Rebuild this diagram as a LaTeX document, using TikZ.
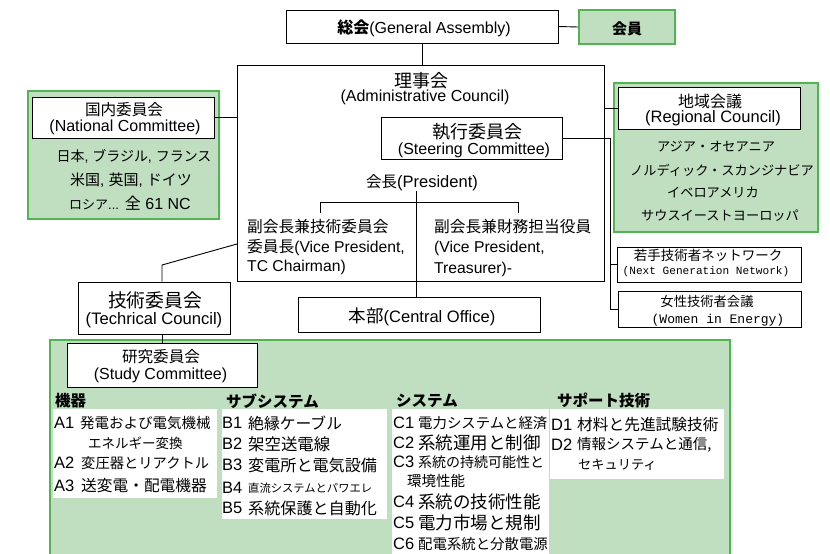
\documentclass[tikz,border=0pt]{standalone}
\usepackage{fontspec}
\setmainfont{Liberation Sans}
\newfontfamily\jp{Noto Sans CJK JP}
\newfontfamily\mono{Liberation Mono}
\newcommand\fsz[1]{\fontsize{#1}{#1}\selectfont}
\definecolor{gfill}{RGB}{192,222,192}
\definecolor{gline}{RGB}{80,180,80}
\begin{document}
\begin{tikzpicture}[x=1pt,y=-1pt,
  box/.style={draw=black, line width=0.9pt, fill=white, inner sep=0pt, rectangle},
  gbox/.style={draw=gline, line width=2pt, fill=gfill, inner sep=0pt, rectangle},
  panel/.style={fill=white, inner sep=0pt, anchor=north west, rectangle},
  txt/.style={inner sep=0pt},
  lt/.style={inner sep=0pt, anchor=west},
  code/.style={inner sep=0pt, anchor=west, font=\fsz{16.5}},
  ln/.style={black, line width=0.9pt}]
\clip (0,0) rectangle (830,554);
\fill[white] (0,0) rectangle (830,554);

% ---- top: General Assembly & members
\node[box, minimum width=272pt, minimum height=33pt] (ga) at (422,26.5) {};
\node[txt, font=\fsz{16}] (gat) at (424,28) {{\jp\bfseries 総会}(General Assembly)};
\node[gbox, minimum width=96pt, minimum height=34pt] (mem) at (627,27) {};
\node[txt, font=\fsz{15}\jp\bfseries] (memt) at (627,29) {会員};
\draw[ln] (ga.east) -- (mem.west);

% ---- Administrative council
\node[box, minimum width=367pt, minimum height=216pt] (adm) at (420.5,173) {};
\draw[ln] (ga.south) -- (ga.south |- adm.north);
\node[txt, font=\fsz{18}\jp] (admj) at (421,81) {理事会};
\node[txt, font=\fsz{16}] (adme) at (425,97) {(Administrative Council)};

\node[box, minimum width=181pt, minimum height=42pt] (steer) at (471.5,138) {};
\node[txt, font=\fsz{18}\jp] (steerj) at (477,132) {執行委員会};
\node[txt, font=\fsz{16}] (steere) at (474,150) {(Steering Committee)};

\node[txt, font=\fsz{16.5}] (pres) at (422,183) {{\jp\fsz{15.5}会長}(President)};

\coordinate (brm) at (416,202);
\coordinate (brl) at (320,213);
\coordinate (brr) at (518,213);
\draw[ln] (brl) -- (brl |- brm) -- (brr |- brm) -- (brr);

\node[lt, font=\fsz{15.7}\jp] (vp1a) at (247,227) {副会長兼技術委員会};
\node[lt, font=\fsz{15.7}] (vp1b) at (247,248) {{\jp 委員長}(Vice President,};
\node[lt, font=\fsz{15.7}] (vp1c) at (247,267) {TC Chairman)};
\node[lt, font=\fsz{15.7}\jp] (vp2a) at (434,227) {副会長兼財務担当役員};
\node[lt, font=\fsz{15.7}] (vp2b) at (434,248) {(Vice President,};
\node[lt, font=\fsz{15.7}] (vp2c) at (434,269) {Treasurer)-};

\node[box, minimum width=242pt, minimum height=35pt] (hq) at (419,314.5) {};
\node[txt, font=\fsz{16.5}] (hqt) at (422,317) {{\jp\fsz{17.5}本部}(Central Office)};
\draw[ln] (brm |- pres.south) -- (brm |- hq.north);

% ---- National committee
\node[gbox, minimum width=191pt, minimum height=128pt] (natg) at (123.5,155) {};
\node[box, minimum width=182pt, minimum height=41pt] (nat) at (123,117.5) {};
\node[txt, font=\fsz{15.6}\jp] (natj) at (124,110) {国内委員会};
\node[txt, font=\fsz{16}] (nate) at (125,127) {(National Committee)};
\node[txt, font=\fsz{14}] (nat1) at (134,156) {{\jp 日本}, {\jp ブラジル}, {\jp フランス}};
\node[txt, font=\fsz{15}] (nat2) at (131,180) {{\jp 米国}, {\jp 英国}, {\jp ドイツ}};
\node[txt, font=\fsz{16}] (nat3) at (130,203) {{\jp\fsz{13}ロシア}{\fsz{13}...} {\jp 全} 61 NC};
\draw[ln] (nat.east) -- (nat.east -| adm.west);

% ---- Regional council
\node[gbox, minimum width=204pt, minimum height=149pt] (regg) at (716,157.5) {};
\node[box, minimum width=182pt, minimum height=42pt] (reg) at (709,108) {};
\node[txt, font=\fsz{16}\jp] (regj) at (710,101) {地域会議};
\node[txt, font=\fsz{16.5}] (rege) at (713,118) {(Regional Council)};
\node[txt, font=\fsz{13.2}\jp] (reg1) at (716,147) {アジア・オセアニア};
\node[txt, font=\fsz{13.2}\jp] (reg2) at (722,170) {ノルディック・スカンジナビア};
\node[txt, font=\fsz{13.2}\jp] (reg3) at (713,193) {イベロアメリカ};
\node[txt, font=\fsz{13.2}\jp] (reg4) at (720,216) {サウスイーストヨーロッパ};
\draw[ln] (reg.west -| adm.east) -- (reg.west);

% ---- Next generation / women
\node[box, minimum width=184pt, minimum height=35pt] (ngn) at (709,264.5) {};
\node[txt, font=\fsz{13.5}\jp] (ngnj) at (708,255) {若手技術者ネットワーク};
\node[txt, font=\fsz{11.1}\mono] (ngne) at (706,272) {(Next Generation Network)};
\node[box, minimum width=183pt, minimum height=36pt] (wie) at (709.5,309) {};
\node[txt, font=\fsz{13.3}\jp] (wiej) at (707,301) {女性技術者会議};
\node[txt, font=\fsz{13}\mono] (wiee) at (718,320) {(Women in Energy)};
\coordinate (bus) at (610,137);
\draw[ln] (steer.east) -- (steer.east -| bus) |- (wie.west);
\draw[ln] (ngn.west -| bus) -- (ngn.west);

% ---- Technical council
\node[box, minimum width=152pt, minimum height=52pt] (tc) at (154,308) {};
\node[txt, font=\fsz{18.8}\jp] (tcj) at (155,300) {技術委員会};
\node[txt, font=\fsz{16.6}] (tce) at (154,320) {(Techrical Council)};
\coordinate (tcup) at (162,265);
\coordinate (tcend) at (237,244);
\draw[ln] (tc.north -| tcup) -- (tcup) -- (tcend);

% ---- Study committees area
\node[gbox, anchor=north west, minimum width=680pt, minimum height=225pt] (scg) at (49,339) {};
\node[box, minimum width=190pt, minimum height=44pt] (sc) at (162,365) {};
\node[txt, font=\fsz{15.6}\jp] (scj) at (161,357) {研究委員会};
\node[txt, font=\fsz{16}] (sce) at (160.5,375) {(Study Committee)};
\draw[ln] (tc.south -| sc.north) -- (sc.north);

\node[lt, font=\fsz{15.5}\jp\bfseries] (hA) at (55,401) {機器};
\node[lt, font=\fsz{15.5}\jp\bfseries] (hB) at (226,401) {サブシステム};
\node[lt, font=\fsz{15.5}\jp\bfseries] (hC) at (396,401) {システム};
\node[lt, font=\fsz{15.5}\jp\bfseries] (hD) at (557,400) {サポート技術};

\node[panel, minimum width=164pt, minimum height=89pt] (pA) at (53,409) {};
\node[panel, minimum width=165pt, minimum height=110pt] (pB) at (222,409) {};
\node[panel, minimum width=157pt, minimum height=150pt] (pC) at (392,409) {};
\node[panel, minimum width=174pt, minimum height=70pt] (pD) at (550,409) {};

% A
\node[code] (a1) at (54,423) {A1};
\node[lt, font=\fsz{14.5}\jp] (a1t) at (80,423) {発電および電気機械};
\node[lt, font=\fsz{13.5}\jp] (a1u) at (88,443) {エネルギー変換};
\node[code] (a2) at (54,463) {A2};
\node[lt, font=\fsz{14.3}\jp] (a2t) at (81,463) {変圧器とリアクトル};
\node[code] (a3) at (54,486) {A3};
\node[lt, font=\fsz{15.7}\jp] (a3t) at (81,486) {送変電・配電機器};
% B
\node[code] (b1) at (222,423) {B1};
\node[lt, font=\fsz{15.8}\jp] (b1t) at (248,423) {絶縁ケーブル};
\node[code] (b2) at (222,444) {B2};
\node[lt, font=\fsz{16.4}\jp] (b2t) at (248,444) {架空送電線};
\node[code] (b3) at (222,465) {B3};
\node[lt, font=\fsz{16.1}\jp] (b3t) at (248,465) {変電所と電気設備};
\node[code] (b4) at (222,488) {B4};
\node[lt, font=\fsz{11.3}\jp] (b4t) at (248,488) {直流システムとパワエレ};
\node[code] (b5) at (222,508) {B5};
\node[lt, font=\fsz{16.1}\jp] (b5t) at (248,508) {系統保護と自動化};
% C
\node[code] (c1) at (393,423) {C1};
\node[lt, font=\fsz{14.4}\jp] (c1t) at (418,423) {電力システムと経済};
\node[code] (c2) at (393,443) {C2};
\node[lt, font=\fsz{17.5}\jp] (c2t) at (418,443) {系統運用と制御};
\node[code] (c3) at (393,462) {C3};
\node[lt, font=\fsz{14}\jp] (c3t) at (418,462) {系統の持続可能性と};
\node[lt, font=\fsz{14.5}\jp] (c3u) at (407,481) {環境性能};
\node[code] (c4) at (393,502) {C4};
\node[lt, font=\fsz{17.5}\jp] (c4t) at (418,502) {系統の技術性能};
\node[code] (c5) at (393,523) {C5};
\node[lt, font=\fsz{17.5}\jp] (c5t) at (418,523) {電力市場と規制};
\node[code] (c6) at (393,544) {C6};
\node[lt, font=\fsz{14.4}\jp] (c6t) at (418,544) {配電系統と分散電源};
% D
\node[code] (d1) at (551,425) {D1};
\node[lt, font=\fsz{15.7}\jp] (d1t) at (577,425) {材料と先進試験技術};
\node[code] (d2) at (551,445) {D2};
\node[lt, font=\fsz{14.5}\jp] (d2t) at (577,445) {情報システムと通信,};
\node[lt, font=\fsz{13.2}\jp] (d2u) at (578,465) {セキュリティ};
\end{tikzpicture}
\end{document}
